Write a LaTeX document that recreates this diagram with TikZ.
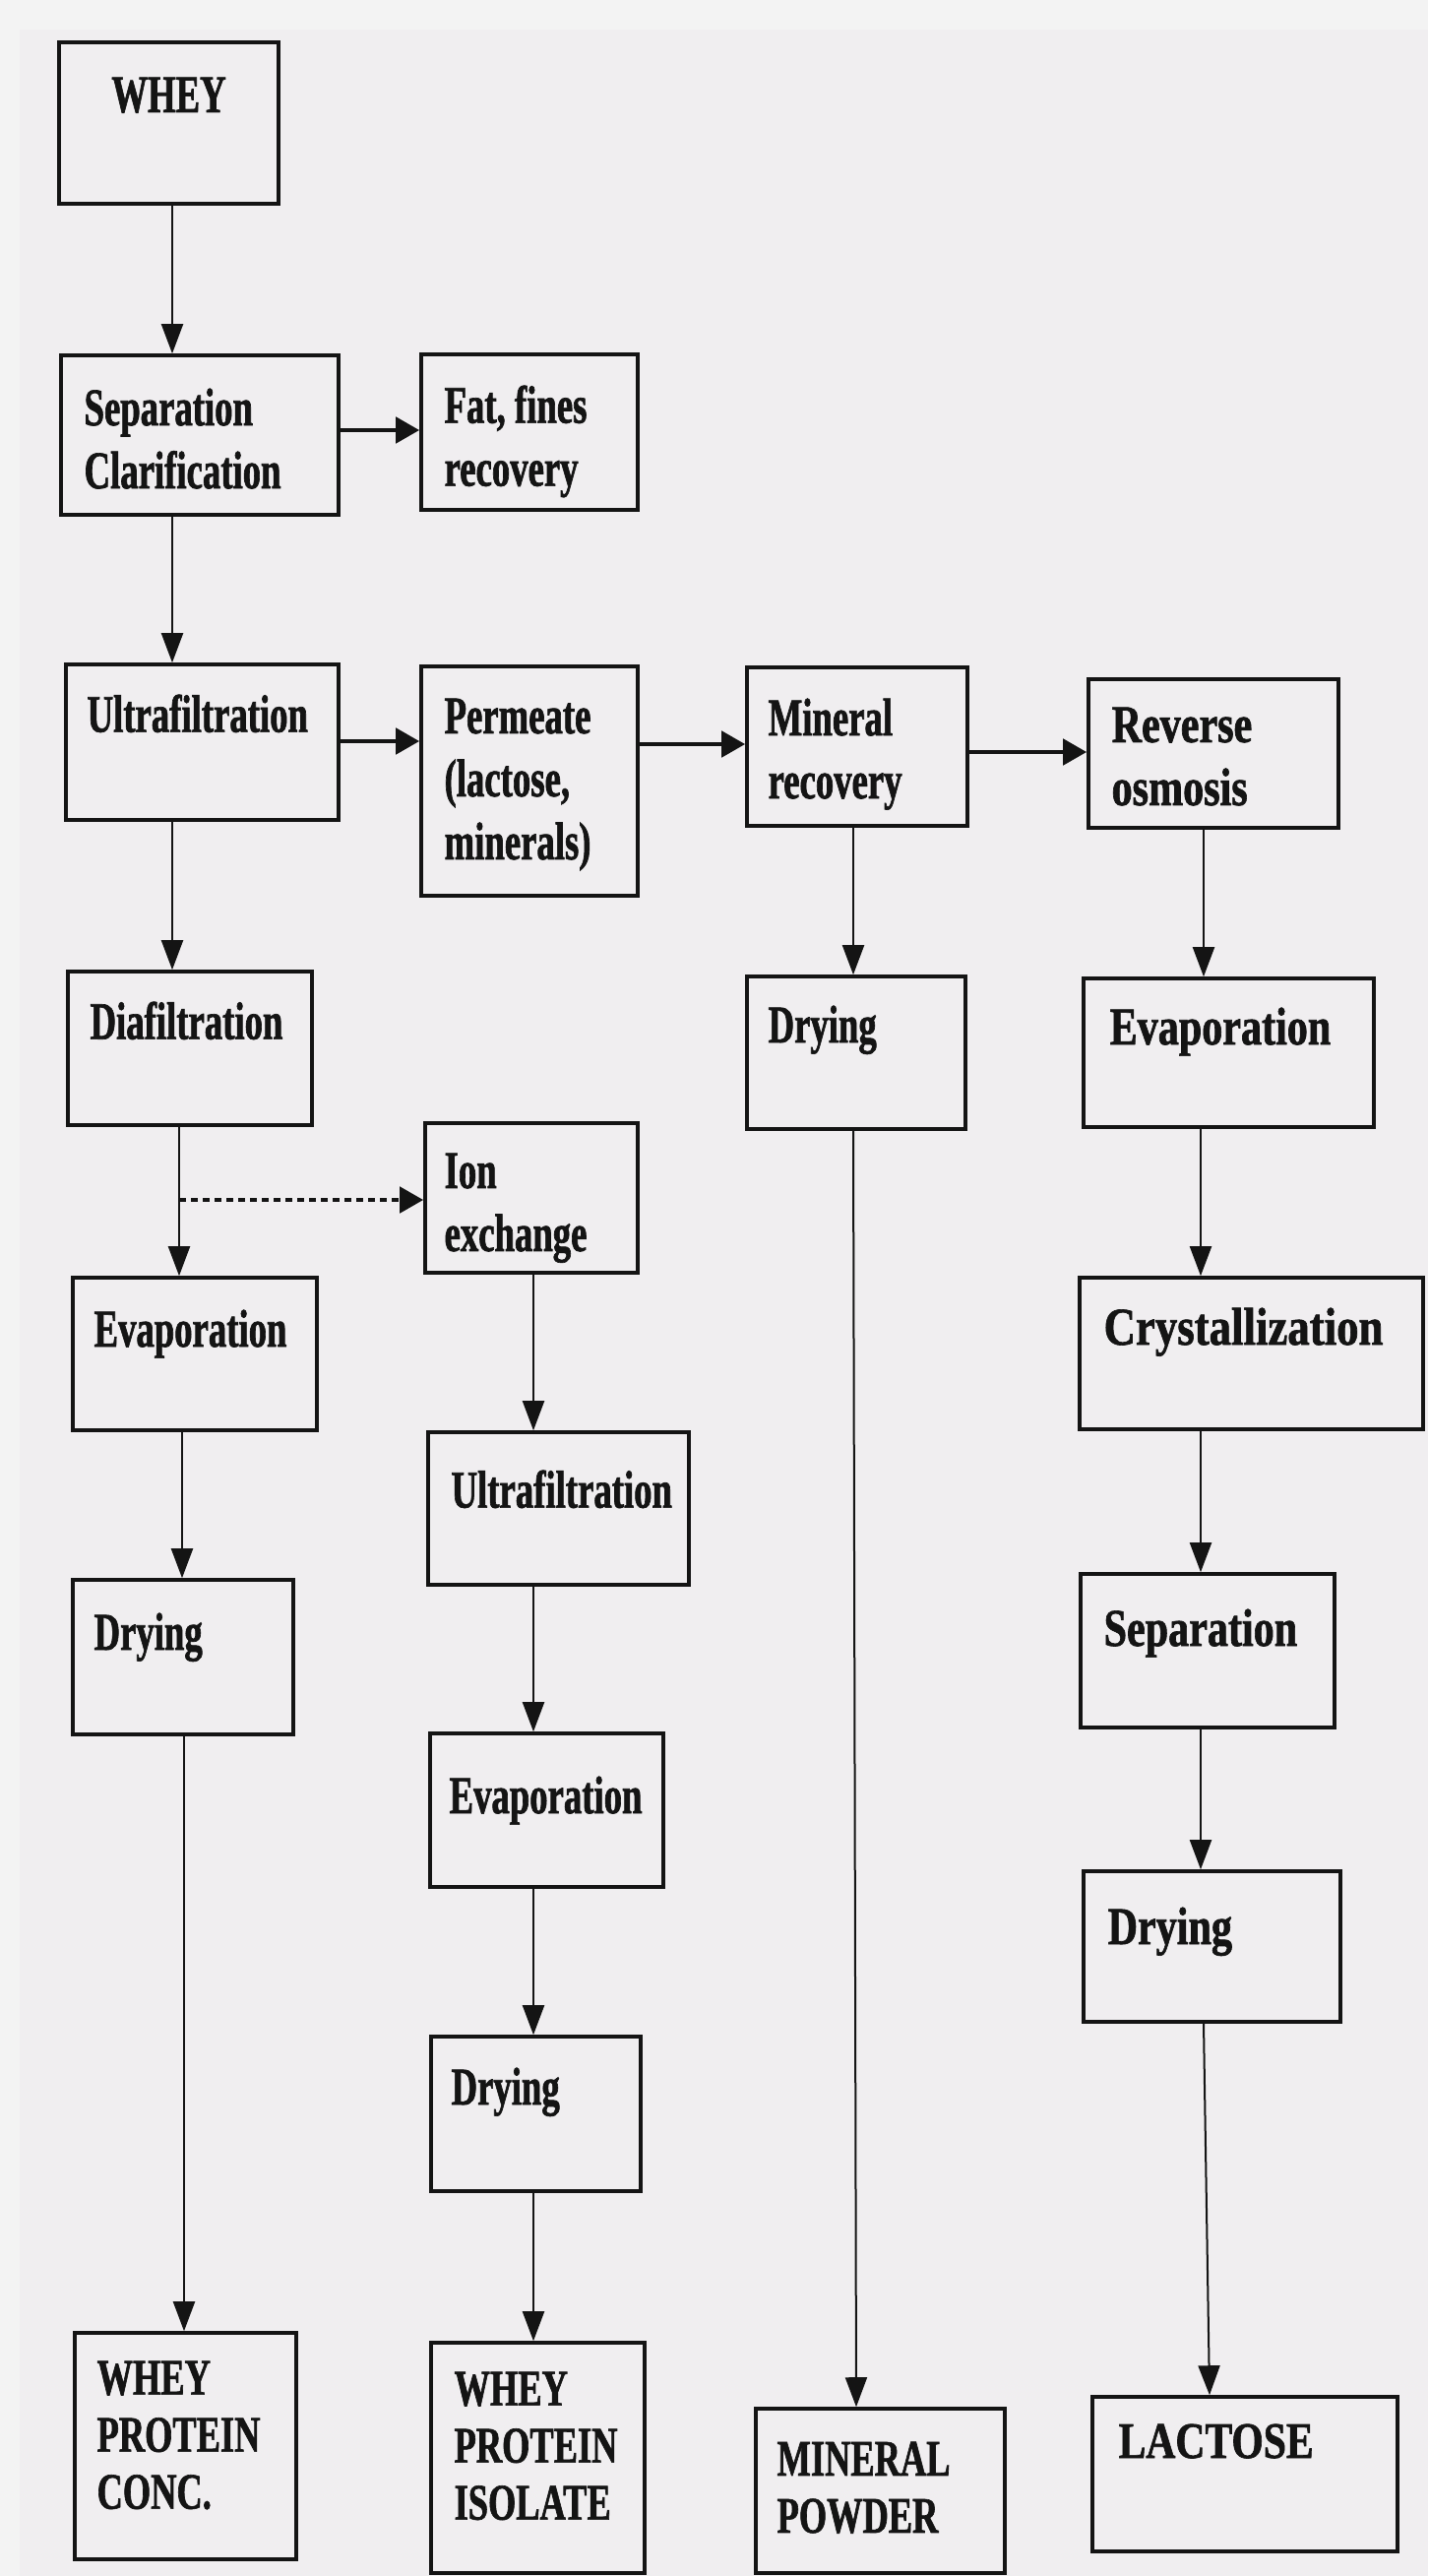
\documentclass[tikz,border=0pt]{standalone}
\usepackage{fontspec}
\newfontfamily\lblfont{Liberation Serif}[FakeStretch=0.68, FakeBold=1.2]
\newfontfamily\lblfontw{Liberation Serif}[FakeStretch=0.78, FakeBold=1.2]
\newfontfamily\lblfontx{Liberation Serif}[FakeStretch=0.83, FakeBold=1.2]
\newfontfamily\capfont{Liberation Serif}[FakeStretch=0.70, FakeBold=1.2]
\newfontfamily\capfontw{Liberation Serif}[FakeStretch=0.80, FakeBold=1.2]
\usetikzlibrary{arrows.meta}
\definecolor{marginc}{RGB}{243,243,243}
\definecolor{paper}{RGB}{240,238,240}
\definecolor{ink}{RGB}{20,20,20}
\newcommand\mkbox[5]{\node[box, minimum width={(#4-#2)*0.5pt}, minimum height={(#5-#3)*0.5pt}] (#1) at ({(#2+#4)/2},{(#3+#5)/2}) {};}
\begin{document}
\begin{tikzpicture}[x=0.5pt,y=-0.5pt,
  box/.style={draw=ink, line width=1.8pt, inner sep=0pt, shape=rectangle},
  lbl/.style={anchor=north west, inner sep=0pt, align=left, text=ink,
    font=\lblfont\bfseries\fontsize{27}{32}\selectfont},
  lblw/.style={lbl, font=\lblfontw\bfseries\fontsize{27}{32}\selectfont},
  lblx/.style={lbl, font=\lblfontx\bfseries\fontsize{27}{32}\selectfont},
  caplbl/.style={lbl, font=\capfont\bfseries\fontsize{26}{29}\selectfont},
  caplblw/.style={lbl, font=\capfontw\bfseries\fontsize{26}{29}\selectfont},
  varr/.style={draw=ink, line width=1pt, -{Triangle[length=15pt,width=11pt]}},
  harr/.style={draw=ink, line width=2.4pt, -{Triangle[length=12pt,width=13pt]}},
  darr/.style={harr, dash pattern=on 3.5pt off 2.5pt}]
% background
\fill[marginc] (0,0) rectangle (1451,2617);
\fill[paper] (20,30) rectangle (1451,2617);
\useasboundingbox (0,0) rectangle (1451,2617);
% boxes
\mkbox{whey}{60}{43}{283}{207}
\mkbox{sep}{62}{361}{344}{523}
\mkbox{fat}{428}{360}{648}{518}
\mkbox{ufa}{67}{675}{344}{833}
\mkbox{perm}{428}{677}{648}{910}
\mkbox{minrec}{759}{678}{983}{839}
\mkbox{ro}{1106}{690}{1360}{841}
\mkbox{dia}{69}{987}{317}{1143}
\mkbox{drym}{759}{992}{981}{1147}
\mkbox{evapR}{1101}{994}{1396}{1145}
\mkbox{ion}{432}{1141}{648}{1293}
\mkbox{evapL}{74}{1298}{322}{1453}
\mkbox{cryst}{1097}{1298}{1446}{1452}
\mkbox{ufb}{435}{1455}{700}{1610}
\mkbox{dryL}{74}{1605}{298}{1762}
\mkbox{sepR}{1098}{1599}{1356}{1755}
\mkbox{evapM}{437}{1761}{674}{1917}
\mkbox{dryR}{1101}{1901}{1362}{2054}
\mkbox{dryM}{438}{2069}{651}{2226}
\mkbox{wpc}{76}{2370}{301}{2600}
\mkbox{wpi}{438}{2380}{655}{2614}
\mkbox{minp}{768}{2447}{1021}{2614}
\mkbox{lact}{1110}{2435}{1420}{2592}
% labels
\node[lbl, anchor=north, yshift=-18.5pt] (whey-t) at (whey.north) {WHEY};
\node[lbl, xshift=12.5pt, yshift=-17.5pt] (sep-t) at (sep.north west) {Separation\\Clarification};
\node[lbl, xshift=12.5pt, yshift=-16.5pt] (fat-t) at (fat.north west) {Fat, fines\\recovery};
\node[lbl, xshift=11.5pt, yshift=-16pt] (ufa-t) at (ufa.north west) {Ultrafiltration};
\node[lbl, xshift=12.5pt, yshift=-17pt] (perm-t) at (perm.north west) {Permeate\\(lactose,\\minerals)};
\node[lbl, xshift=11.5pt, yshift=-16.5pt] (minrec-t) at (minrec.north west) {Mineral\\recovery};
\node[lblw, xshift=12.5pt, yshift=-15pt] (ro-t) at (ro.north west) {Reverse\\osmosis};
\node[lbl, xshift=12pt, yshift=-16pt] (dia-t) at (dia.north west) {Diafiltration};
\node[lbl, xshift=11.5pt, yshift=-15.5pt] (drym-t) at (drym.north west) {Drying};
\node[lblw, xshift=14pt, yshift=-15.5pt] (evapR-t) at (evapR.north west) {Evaporation};
\node[lbl, xshift=10.5pt, yshift=-16pt] (ion-t) at (ion.north west) {Ion\\exchange};
\node[lbl, xshift=11.5pt, yshift=-17pt] (evapL-t) at (evapL.north west) {Evaporation};
\node[lblx, xshift=13pt, yshift=-16pt] (cryst-t) at (cryst.north west) {Crystallization};
\node[lbl, xshift=12.5pt, yshift=-20pt] (ufb-t) at (ufb.north west) {Ultrafiltration};
\node[lbl, xshift=11.5pt, yshift=-17.5pt] (dryL-t) at (dryL.north west) {Drying};
\node[lblw, xshift=12.5pt, yshift=-18.5pt] (sepR-t) at (sepR.north west) {Separation};
\node[lbl, xshift=10.5pt, yshift=-22.5pt] (evapM-t) at (evapM.north west) {Evaporation};
\node[lblw, xshift=13pt, yshift=-19pt] (dryR-t) at (dryR.north west) {Drying};
\node[lbl, xshift=11pt, yshift=-16.5pt] (dryM-t) at (dryM.north west) {Drying};
\node[caplbl, xshift=12pt, yshift=-15pt] (wpc-t) at (wpc.north west) {WHEY\\PROTEIN\\CONC.};
\node[caplbl, xshift=12.5pt, yshift=-15.5pt] (wpi-t) at (wpi.north west) {WHEY\\PROTEIN\\ISOLATE};
\node[caplbl, xshift=11.5pt, yshift=-17.5pt] (minp-t) at (minp.north west) {MINERAL\\POWDER};
\node[caplblw, xshift=14pt, yshift=-14.5pt] (lact-t) at (lact.north west) {LACTOSE};
% column / row guides
\coordinate (cA) at (175,0);
\coordinate (cB) at (182,0);
\coordinate (cC) at (185,0);
\coordinate (cD) at (187,0);
\coordinate (cM) at (542,0);
\coordinate (cN1) at (867,0);
\coordinate (cN2) at (870,0);
\coordinate (cR) at (1220,0);
\coordinate (cRa) at (1223,0);
\coordinate (cRb) at (1229,0);
\coordinate (r1) at (0,437);
\coordinate (r2) at (0,753);
\coordinate (r3) at (0,756);
\coordinate (r4) at (0,764);
\coordinate (r5) at (0,1219);
% connectors
\draw[varr] (whey.south -| cA) -- (sep.north -| cA);
\draw[varr] (sep.south -| cA) -- (ufa.north -| cA);
\draw[varr] (ufa.south -| cA) -- (dia.north -| cA);
\draw[varr] (dia.south -| cB) -- (evapL.north -| cB);
\draw[varr] (evapL.south -| cC) -- (dryL.north -| cC);
\draw[varr] (dryL.south -| cD) -- (wpc.north -| cD);
\draw[harr] (sep.east |- r1) -- (fat.west |- r1);
\draw[harr] (ufa.east |- r2) -- (perm.west |- r2);
\draw[harr] (perm.east |- r3) -- (minrec.west |- r3);
\draw[harr] (minrec.east |- r4) -- (ro.west |- r4);
\draw[darr] (cB |- r5) -- (ion.west |- r5);
\draw[varr] (ion.south -| cM) -- (ufb.north -| cM);
\draw[varr] (ufb.south -| cM) -- (evapM.north -| cM);
\draw[varr] (evapM.south -| cM) -- (dryM.north -| cM);
\draw[varr] (dryM.south -| cM) -- (wpi.north -| cM);
\draw[varr] (minrec.south -| cN1) -- (drym.north -| cN1);
\draw[varr] (drym.south -| cN1) -- (minp.north -| cN2);
\draw[varr] (ro.south -| cRa) -- (evapR.north -| cRa);
\draw[varr] (evapR.south -| cR) -- (cryst.north -| cR);
\draw[varr] (cryst.south -| cR) -- (sepR.north -| cR);
\draw[varr] (sepR.south -| cR) -- (dryR.north -| cR);
\draw[varr] (dryR.south -| cRa) -- (lact.north -| cRb);
\end{tikzpicture}
\end{document}
